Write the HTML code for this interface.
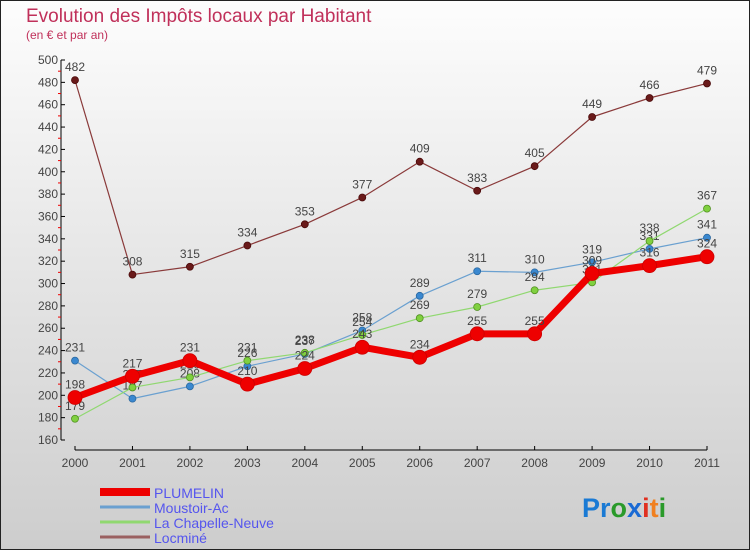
<!DOCTYPE html>
<html><head><meta charset="utf-8"><style>
body{margin:0;width:750px;height:550px;overflow:hidden;font-family:"Liberation Sans",sans-serif}
</style></head><body>
<svg id="chart" width="750" height="550" xmlns="http://www.w3.org/2000/svg" style="display:block">
<defs><linearGradient id="bg" x1="0" y1="0" x2="0" y2="1"><stop offset="0" stop-color="#fdfdfd"/><stop offset="1" stop-color="#cdcdcd"/></linearGradient></defs>
<rect x="0.5" y="0.5" width="749" height="549" fill="url(#bg)" stroke="#222" stroke-width="1"/>
<text x="26" y="22" font-size="19" fill="#c0305a">Evolution des Impôts locaux par Habitant</text>
<text x="26" y="39" font-size="12" fill="#c0305a">(en € et par an)</text>
<g id="axes"></g><g id="series"></g>
<g font-size="14" fill="#5555ee">
<rect x="100" y="488" width="50" height="8" fill="#ee0000"/><text x="154" y="498">PLUMELIN</text>
<line x1="100" y1="507" x2="150" y2="507" stroke="#6aa0d0" stroke-width="3"/><text x="154" y="513">Moustoir-Ac</text>
<line x1="100" y1="522" x2="150" y2="522" stroke="#90d870" stroke-width="3"/><text x="154" y="528">La Chapelle-Neuve</text>
<line x1="100" y1="537" x2="150" y2="537" stroke="#9a6060" stroke-width="3"/><text x="154" y="543">Locminé</text>
</g>
<text x="582" y="517" font-size="27" font-weight="bold"><tspan fill="#1a7ad4">Pr</tspan><tspan fill="#2a9a2a">o</tspan><tspan fill="#1a6ad4">x</tspan><tspan fill="#e03020">i</tspan><tspan fill="#f08020">t</tspan><tspan fill="#2a9a2a">i</tspan></text>
</svg>
<script>
const years=["2000","2001","2002","2003","2004","2005","2006","2007","2008","2009","2010","2011"];
const yTicks=[160,180,200,220,240,260,280,300,320,340,360,380,400,420,440,460,480,500];
const plumelin=[198,217,231,210,224,243,234,255,255,309,316,324];
const moustoir=[231,197,208,226,237,258,289,311,310,319,331,341];
const chapelle=[179,207,216,231,238,254,269,279,294,301,338,367];
const locmine=[482,308,315,334,353,377,409,383,405,449,466,479];
const NS="http://www.w3.org/2000/svg";
const X=i=>75+i*(632/11);
const Y=v=>60+(500-v)*(380/340);
function mk(t,a,p){const e=document.createElementNS(NS,t);for(const k in a)e.setAttribute(k,a[k]);p.appendChild(e);return e;}
const ax=document.getElementById('axes');
mk('line',{x1:61,y1:60,x2:61,y2:440,stroke:'#000'},ax);
mk('line',{x1:75,y1:450,x2:707,y2:450,stroke:'#000'},ax);
yTicks.forEach(v=>{
 mk('line',{x1:61,y1:Y(v),x2:65,y2:Y(v),stroke:'#000'},ax);
 if(v<500)mk('line',{x1:58,y1:Y(v+10),x2:61,y2:Y(v+10),stroke:'#e00'},ax);
 const t=mk('text',{x:58,y:Y(v)+4,'text-anchor':'end','font-size':12,fill:'#444'},ax);
 
 
 t.textContent=v;
});
years.forEach((y,i)=>{
 mk('line',{x1:X(i),y1:446,x2:X(i),y2:450,stroke:'#000'},ax);
 const t=mk('text',{x:X(i),y:467,'text-anchor':'middle','font-size':12,fill:'#444'},ax);
 
 
 t.textContent=y;
});
const sg=document.getElementById('series');
function series(name,data,color,w,r,dot,dotStroke){
 const g=mk('g',{},sg);
 
 
 mk('polyline',{points:data.map((v,i)=>X(i)+','+Y(v)).join(' '),fill:'none',stroke:color,'stroke-width':w,'stroke-linejoin':'round'},g);
 data.forEach((v,i)=>{
  const c=mk('circle',{cx:X(i),cy:Y(v),r:r,fill:dot,stroke:dotStroke,'stroke-width':0.8},g);
  
  
  const t=mk('text',{x:X(i),y:Y(v)-9,'text-anchor':'middle','font-size':12,fill:'#444'},g);
  
  
  t.textContent=v;
 });
}
series('series-locmine',locmine,'#8a3a3a',1.2,3.5,'#6a1a1a','#4a0a0a');
series('series-moustoir-ac',moustoir,'#6aa0d0',1.2,3.5,'#3a88d0','#2a68a0');
series('series-la-chapelle-neuve',chapelle,'#90d870',1.2,3.5,'#80d040','#509020');
series('series-plumelin',plumelin,'#ee0000',7,7,'#ee0000','#cc0000');
</script>
</body></html>
